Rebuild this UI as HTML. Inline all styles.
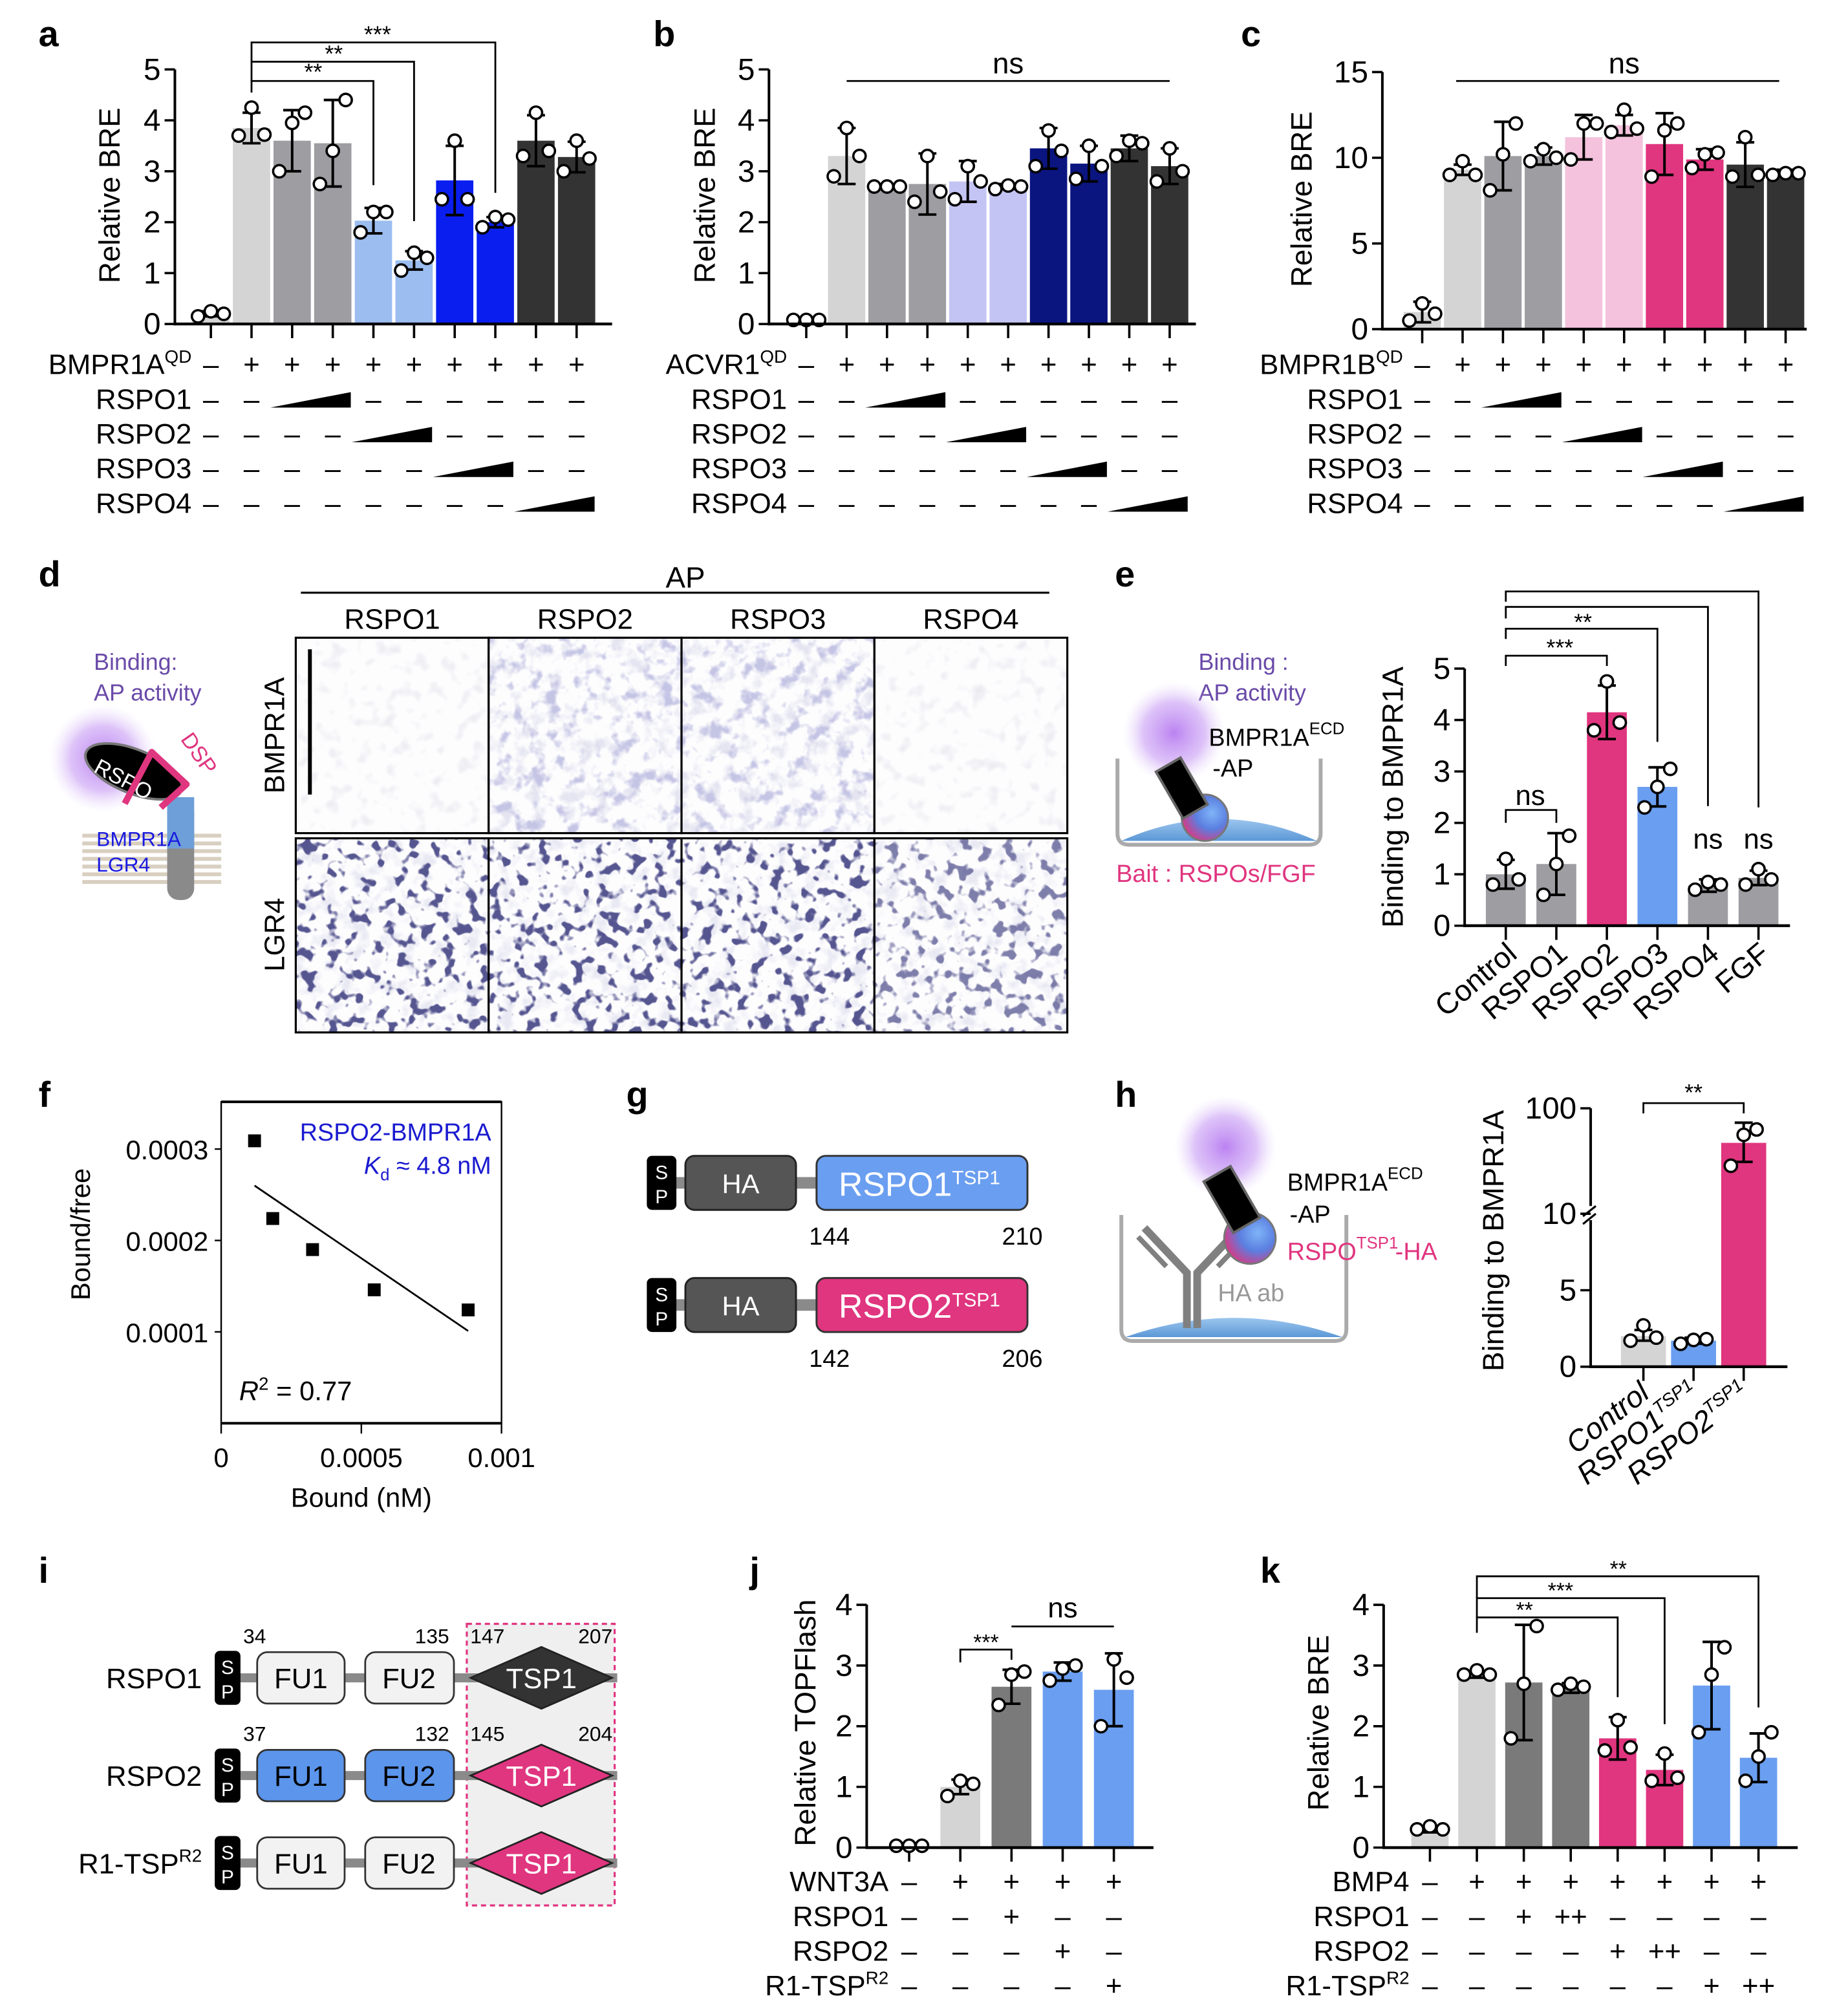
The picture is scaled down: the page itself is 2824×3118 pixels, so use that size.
<!DOCTYPE html>
<html><head><meta charset="utf-8"><title>RSPO-BMPR1A figure</title>
<style>
html,body{margin:0;padding:0;background:#fff;}
svg{display:block;font-family:"Liberation Sans",Arial,sans-serif;}
</style></head>
<body>
<svg id="fig" xmlns="http://www.w3.org/2000/svg" width="2824" height="3118" viewBox="0 0 1420 1568" preserveAspectRatio="none">
<defs>
 <filter id="fLight" x="0" y="0" width="1" height="1"><feTurbulence type="fractalNoise" baseFrequency="0.09" numOctaves="2" seed="2"/><feColorMatrix type="matrix" values="0 0 0 0 0.82 0 0 0 0 0.82 0 0 0 0 0.87 3 0 0 0 -1.6"/></filter>
 <filter id="fLav" x="0" y="0" width="1" height="1"><feTurbulence type="fractalNoise" baseFrequency="0.08" numOctaves="3" seed="5"/><feColorMatrix type="matrix" values="0 0 0 0 0.55 0 0 0 0 0.55 0 0 0 0 0.78 5 0 0 0 -2.7"/></filter>
 <filter id="fLavL" x="0" y="0" width="1" height="1"><feTurbulence type="fractalNoise" baseFrequency="0.08" numOctaves="3" seed="9"/><feColorMatrix type="matrix" values="0 0 0 0 0.78 0 0 0 0 0.78 0 0 0 0 0.88 4 0 0 0 -2.0"/></filter>
 <filter id="fDark" x="0" y="0" width="1" height="1"><feTurbulence type="fractalNoise" baseFrequency="0.11" numOctaves="2" seed="7"/><feColorMatrix type="matrix" values="0 0 0 0 0.09 0 0 0 0 0.09 0 0 0 0 0.28 10 0 0 0 -5.6"/></filter>
 <radialGradient id="glow"><stop offset="0" stop-color="#b77cf0" stop-opacity="0.95"/><stop offset="0.6" stop-color="#c79af4" stop-opacity="0.6"/><stop offset="1" stop-color="#e6d6fb" stop-opacity="0"/></radialGradient>
 <radialGradient id="ball" cx="0.65" cy="0.4" r="0.7"><stop offset="0" stop-color="#7fb4f8"/><stop offset="0.5" stop-color="#5b7fe0"/><stop offset="1" stop-color="#e0357f"/></radialGradient>
 <linearGradient id="dish" x1="0" y1="0" x2="0" y2="1"><stop offset="0" stop-color="#9cc6ef"/><stop offset="1" stop-color="#5c98d6"/></linearGradient>
</defs>
<g id="root"></g>
</svg>
<script>
// ===== DATA =====
// panel a
const aMeans=[0.2,3.85,3.6,3.55,2.03,1.25,2.82,2.0,3.6,3.28];
const aSD=[0.05,0.3,0.6,0.85,0.25,0.18,0.68,0.1,0.5,0.3];
const aPts=[[0.15,0.25,0.2],[3.7,4.25,3.72],[3.0,3.95,4.15],[2.75,3.4,4.4],[1.8,2.2,2.2],[1.05,1.4,1.3],[2.45,3.6,2.45],[1.9,2.1,2.05],[3.3,4.15,3.4],[3.0,3.6,3.25]];
const aColors=['#d4d4d4','#d4d4d4','#9d9da2','#9d9da2','#9bbdf0','#9bbdf0','#0a1ef0','#0a1ef0','#333333','#333333'];
// panel b
const bMeans=[0.08,3.3,2.7,2.75,2.8,2.7,3.45,3.15,3.45,3.1];
const bSD=[0.02,0.55,0.03,0.6,0.4,0.05,0.4,0.35,0.25,0.35];
const bPts=[[0.08,0.08,0.08],[2.9,3.85,3.3],[2.7,2.7,2.7],[2.4,3.3,2.6],[2.45,3.1,2.8],[2.65,2.72,2.7],[3.1,3.8,3.4],[2.85,3.5,3.1],[3.3,3.6,3.55],[2.8,3.45,3.0]];
const bColors=['#d4d4d4','#d4d4d4','#9d9da2','#9d9da2','#c4c4f4','#c4c4f4','#0b1580','#0b1580','#333333','#333333'];
// panel c
const cMeans=[1.0,9.3,10.1,10.1,11.2,11.9,10.8,9.9,9.6,9.2];
const cSD=[0.6,0.3,2.0,0.5,1.3,0.6,1.8,0.6,1.3,0.1];
const cPts=[[0.5,1.5,0.9],[9.0,9.8,9.0],[8.1,10.2,12.0],[9.8,10.5,10.0],[9.9,12.0,12.0],[11.5,12.8,11.7],[8.9,11.6,12.0],[9.4,10.2,10.3],[8.9,11.2,9.0],[9.0,9.1,9.1]];
const cColors=['#d4d4d4','#d4d4d4','#9d9da2','#9d9da2','#f4c2dc','#f4c2dc','#e0357f','#e0357f','#333333','#333333'];
const yTicks5=[0,1,2,3,4,5];
const yTicks15=[0,5,10,15];
// panel e
const eCats=['Control','RSPO1','RSPO2','RSPO3','RSPO4','FGF'];
const eMeans=[1.0,1.2,4.15,2.7,0.78,0.93];
const eSD=[0.28,0.6,0.52,0.38,0.12,0.14];
const ePts=[[0.8,1.3,0.9],[0.6,1.2,1.75],[3.8,4.75,3.95],[2.3,2.7,3.05],[0.7,0.85,0.8],[0.8,1.1,0.9]];
const eColors=['#9d9da2','#9d9da2','#e0357f','#6a9ef0','#9d9da2','#9d9da2'];
// panel f
const fBound=[0.000119,0.000184,0.000326,0.000546,0.000881];
const fRatio=[0.000309,0.000224,0.000190,0.000146,0.000124];
const fFitX=[0.000119,0.000881];
const fFitY=[0.000260,0.000101];
const fXTicks=[0,0.0005,0.001];
const fXTickLabels=['0','0.0005','0.001'];
const fYTicks=[0.0001,0.0002,0.0003];
const fYTickLabels=['0.0001','0.0002','0.0003'];
// panel h
const hCats=['Control','RSPO1','RSPO2'];
const hMeans=[2.0,1.7,47];
const hLo=[1.7,1.5,31];
const hHi=[2.4,1.9,73];
const hPts=[[1.7,2.7,1.9],[1.5,1.75,1.8],[28.5,56,63]];
const hColors=['#d4d4d4','#6a9ef0','#e0357f'];
const hTicks=[0,5,10,100];
// panel j
const jMeans=[0.03,1.0,2.65,2.9,2.6];
const jSD=[0.02,0.12,0.28,0.15,0.6];
const jPts=[[0.03,0.03,0.03],[0.85,1.1,1.05],[2.35,2.85,2.9],[2.75,2.95,3.0],[2.0,3.1,2.8]];
const jColors=['#d4d4d4','#d4d4d4','#7a7a7a','#6a9ef0','#6a9ef0'];
// panel k
const kMeans=[0.3,2.85,2.72,2.63,1.8,1.28,2.67,1.48];
const kSD=[0.05,0.05,0.95,0.08,0.35,0.25,0.72,0.4];
const kPts=[[0.3,0.35,0.3],[2.85,2.92,2.85],[1.8,2.7,3.65],[2.6,2.7,2.65],[1.6,2.1,1.65],[1.1,1.55,1.15],[1.9,2.85,3.3],[1.1,1.5,1.9]];
const kColors=['#d4d4d4','#d4d4d4','#7a7a7a','#7a7a7a','#e0357f','#e0357f','#6a9ef0','#6a9ef0'];
const yTicks4=[0,1,2,3,4];
// treatment tables
const aRows=[['–','+','+','+','+','+','+','+','+','+'],['–','–','/','/','–','–','–','–','–','–'],['–','–','–','–','/','/','–','–','–','–'],['–','–','–','–','–','–','/','/','–','–'],['–','–','–','–','–','–','–','–','/','/']];
const jRows=[['–','+','+','+','+'],['–','–','+','–','–'],['–','–','–','+','–'],['–','–','–','–','+']];
const kRows=[['–','+','+','+','+','+','+','+'],['–','–','+','++','–','–','–','–'],['–','–','–','–','+','++','–','–'],['–','–','–','–','–','–','+','++']];

// ===== HELPERS =====
const NS='http://www.w3.org/2000/svg';
const root=document.getElementById('root');
function mk(tag,attrs,parent){const e=document.createElementNS(NS,tag);for(const k in attrs)e.setAttribute(k,attrs[k]);(parent||root).appendChild(e);return e;}
function txt(s,attrs,parent){const e=mk('text',attrs,parent);e.textContent=s;return e;}
function supText(base,sup,attrs,parent,supSize){
  const e=mk('text',attrs,parent);
  const t1=mk('tspan',{},e);t1.textContent=base;
  const t2=mk('tspan',{dy:-9,'font-size':supSize||15},e);t2.textContent=sup;
  return e;
}
function group(name){const g=mk('g',{});return g;}

function barChart(g,L,means,lo,hi,pts,colors,yf){
  const y=yf||(v=>L.y0-v*L.k);
  const ax=mk('line',{x1:L.axisX,y1:L.y0+1,x2:L.axisX,y2:L.yTop,stroke:'#000','stroke-width':2},g);
  
  
  means.forEach((m,i)=>{
    const cx=L.x0+i*L.step;
    const r=mk('rect',{x:cx-L.bw/2,y:y(m),width:L.bw,height:Math.max(0,L.y0-y(m)),fill:colors[i]},g);
    
    
    const t=mk('line',{x1:cx,y1:L.y0,x2:cx,y2:L.y0+11,stroke:'#000','stroke-width':1.8},g);
    
    
    const yl=y(lo[i]),yh=y(hi[i]);
    const eb=mk('path',{d:`M${cx},${yl}V${yh}M${cx-7},${yl}h14M${cx-7},${yh}h14`,stroke:'#000','stroke-width':2,fill:'none'},g);
    
    
    const offs=[-10,0,10];
    pts[i].forEach((p,j)=>{
      const c=mk('circle',{cx:cx+offs[j],cy:y(p),r:4.8,fill:'#fff',stroke:'#000','stroke-width':1.8},g);
      
      
    });
  });
  const xa=mk('line',{x1:L.axisX-1,y1:L.y0,x2:L.axisEnd,y2:L.y0,stroke:'#000','stroke-width':2.2},g);
  
  
  L.ticks.forEach(v=>{
    mk('line',{x1:L.axisX-8,y1:y(v),x2:L.axisX,y2:y(v),stroke:'#000','stroke-width':1.8},g);
    const tl=txt(String(v),{x:L.axisX-11,y:y(v)+8,'text-anchor':'end','font-size':24},g);
    
    
  });
  const tt=txt(L.title,{x:0,y:0,'text-anchor':'middle','font-size':23,transform:`translate(${L.titleX},${L.titleY}) rotate(-90)`},g);
  
  
}
function sdLo(m,s){return m.map((v,i)=>v-s[i]);}
function sdHi(m,s){return m.map((v,i)=>v+s[i]);}

function table(g,x0,step,rowY,labels,rows,labelOffset){
  rows.forEach((row,r)=>{
    const yy=rowY[r];
    const lab=labels[r];
    let t;
    if(lab[1]) t=supText(lab[0],lab[1],{x:x0-labelOffset,y:yy+8,'text-anchor':'end','font-size':22},g,14);
    else t=txt(lab[0],{x:x0-labelOffset,y:yy+8,'text-anchor':'end','font-size':22},g);
    
    
    let i=0;
    while(i<row.length){
      if(row[i]==='/'){
        let j=i;while(j+1<row.length&&row[j+1]==='/')j++;
        const xa=x0+i*step-17,xb=x0+j*step+14,yb=yy+7;
        const w=mk('polygon',{points:`${xa},${yb} ${xb},${yb} ${xb},${yb-12}`,fill:'#000'},g);
        
        
        i=j+1;
      } else {
        const s=txt(row[i],{x:x0+i*step,y:yy+8,'text-anchor':'middle','font-size':22},g);
        
        
        i++;
      }
    }
  });
}
function bracket(g,x1,x2,ytop,yl,yr,label,lx,ly,fs){
  const p=mk('path',{d:`M${x1},${yl}V${ytop}H${x2}V${yr}`,stroke:'#000','stroke-width':1.4,fill:'none'},g);
  
  
  if(label){const t=txt(label,{x:lx,y:ly,'text-anchor':'middle','font-size':fs||18},g);
    
    }
}
function panelLetter(l,x,y){const t=txt(l,{x:x,y:y,'font-size':28,'font-weight':'bold'});
  
  }

// ===== PANEL LETTERS =====
[['a',30,36],['b',508,36],['c',965,36],['d',30,456],['e',867,456],['f',30,861],['g',487,861],['h',867,861],['i',30,1231],['j',583,1231],['k',980,1231]].forEach(p=>panelLetter(...p));

// ===== PANEL A =====
const LA={axisX:136,axisEnd:476,y0:252,k:39.6,yTop:54,x0:164,step:31.6,bw:29,ticks:yTicks5,title:'Relative BRE',titleX:93,titleY:152};
const gA=group('panel-a-chart');
barChart(gA,LA,aMeans,sdLo(aMeans,aSD),sdHi(aMeans,aSD),aPts,aColors);
const bx=i=>LA.x0+i*LA.step;
bracket(gA,bx(1),bx(4),63,72,144,'**',bx(1)+48,62,18);
bracket(gA,bx(1),bx(5),48,63,172,'**',bx(1)+64,48,18);
bracket(gA,bx(1),bx(7),33,48,150,'***',bx(1)+98,33,18);
table(group('panel-a-table'),LA.x0,LA.step,[283,310,337,364,391],[['BMPR1A','QD'],['RSPO1'],['RSPO2'],['RSPO3'],['RSPO4']],aRows,15);

// ===== PANEL B =====
const LB={axisX:598,axisEnd:930,y0:252,k:39.6,yTop:54,x0:627,step:31.4,bw:29,ticks:yTicks5,title:'Relative BRE',titleX:556,titleY:152};
const gB=group('panel-b-chart');
barChart(gB,LB,bMeans,sdLo(bMeans,bSD),sdHi(bMeans,bSD),bPts,bColors);
bracket(gB,LB.x0+LB.step,LB.x0+9*LB.step,63,63,63,'ns',(LB.x0+5*LB.step),57,23);
table(group('panel-b-table'),LB.x0,LB.step,[283,310,337,364,391],[['ACVR1','QD'],['RSPO1'],['RSPO2'],['RSPO3'],['RSPO4']],aRows,15);

// ===== PANEL C =====
const LC={axisX:1075,axisEnd:1405,y0:256,k:13.33,yTop:56,x0:1106,step:31.4,bw:29,ticks:yTicks15,title:'Relative BRE',titleX:1020,titleY:155};
const gC=group('panel-c-chart');
barChart(gC,LC,cMeans,sdLo(cMeans,cSD),sdHi(cMeans,cSD),cPts,cColors);
bracket(gC,LC.x0+LC.step-5,LC.x0+9*LC.step-5,63,63,63,'ns',(LC.x0+5*LC.step),57,23);
table(group('panel-c-table'),LC.x0,LC.step,[283,310,337,364,391],[['BMPR1B','QD'],['RSPO1'],['RSPO2'],['RSPO3'],['RSPO4']],aRows,15);

// ===== PANEL D =====
const gD=group('panel-d');
txt('AP',{x:533,y:457,'text-anchor':'middle','font-size':23},gD);
mk('line',{x1:234,y1:461,x2:816,y2:461,stroke:'#000','stroke-width':1.6},gD);
const dCols=['RSPO1','RSPO2','RSPO3','RSPO4'];
const cellX=[230,380,530,680];
dCols.forEach((c,i)=>{const t=txt(c,{x:cellX[i]+75,y:489,'text-anchor':'middle','font-size':22},gD);
  
  });
const topF=[['fLight'],['fLavL','fLav'],['fLavL','fLav'],['fLight']];
cellX.forEach((x,i)=>{
  mk('rect',{x:x,y:496,width:150,height:152,fill:'#fdfdfe'},gD);
  topF[i].forEach(f=>mk('rect',{x:x,y:496,width:150,height:152,fill:'#fff',filter:`url(#${f})`},gD));
  mk('rect',{x:x,y:652,width:150,height:151,fill:'#fdfdfe'},gD);
  mk('rect',{x:x,y:652,width:150,height:151,fill:'#fff',filter:'url(#fLavL)',opacity:0.8},gD);
  mk('rect',{x:x,y:652,width:150,height:151,fill:'#fff',filter:'url(#fDark)',opacity:i===3?0.75:1},gD);
  const cb=mk('rect',{x:x,y:496,width:150,height:152,fill:'none',stroke:'#000','stroke-width':1.6},gD);
  
  
  const cb2=mk('rect',{x:x,y:652,width:150,height:151,fill:'none',stroke:'#000','stroke-width':1.6},gD);
  
  
});
mk('line',{x1:241,y1:505,x2:241,y2:618,stroke:'#000','stroke-width':3},gD);
txt('BMPR1A',{x:0,y:0,'text-anchor':'middle','font-size':22,transform:'translate(221,572) rotate(-90)'},gD);
txt('LGR4',{x:0,y:0,'text-anchor':'middle','font-size':22,transform:'translate(221,727) rotate(-90)'},gD);
// schematic
txt('Binding:',{x:73,y:521,'font-size':18,fill:'#6a4aa8'},gD);
txt('AP activity',{x:73,y:545,'font-size':18,fill:'#6a4aa8'},gD);
for(let k=0;k<7;k++) mk('line',{x1:64,y1:650+k*6,x2:172,y2:650+k*6,stroke:'#d8cfc0','stroke-width':3},gD);
mk('rect',{x:130,y:622,width:21,height:78,rx:9,fill:'#8a8a8a'},gD);
mk('rect',{x:130,y:620,width:21,height:40,fill:'#6e9fd8'},gD);
mk('circle',{cx:80,cy:590,r:42,fill:'url(#glow)'},gD);
mk('ellipse',{cx:104,cy:600,rx:40,ry:17,fill:'#000',stroke:'#777','stroke-width':2,transform:'rotate(22 104 600)'},gD);
txt('RSPO',{x:0,y:0,'font-size':17,fill:'#fff',transform:'translate(72,600) rotate(28)'},gD);
mk('path',{d:'M97,625 L118,585 L145,610 L125,628',stroke:'#e0357f','stroke-width':5,fill:'none','stroke-linejoin':'round'},gD);
txt('DSP',{x:0,y:0,'font-size':17,fill:'#e0357f',transform:'translate(140,575) rotate(55)'},gD);
txt('BMPR1A',{x:75,y:658,'font-size':16,fill:'#1a1ae0'},gD);
txt('LGR4',{x:75,y:678,'font-size':16,fill:'#1a1ae0'},gD);

// ===== PANEL E =====
const gEs=group('panel-e-schematic');
txt('Binding :',{x:932,y:521,'font-size':18,fill:'#6a4aa8'},gEs);
txt('AP activity',{x:932,y:545,'font-size':18,fill:'#6a4aa8'},gEs);
mk('path',{d:'M869,590 V648 Q869,657 878,657 H1018 Q1027,657 1027,648 V590',stroke:'#aaa','stroke-width':3,fill:'none'},gEs);
mk('path',{d:'M872,654 Q948,620 1024,654 Z',fill:'url(#dish)'},gEs);
mk('circle',{cx:913,cy:570,r:40,fill:'url(#glow)'},gEs);
mk('circle',{cx:937,cy:636,r:18,fill:'url(#ball)',stroke:'#777','stroke-width':1.5},gEs);
mk('rect',{x:908,y:592,width:22,height:42,fill:'#000',stroke:'#666','stroke-width':2,transform:'rotate(-30 919 613)'},gEs);
supText('BMPR1A','ECD',{x:940,y:580,'font-size':19},gEs,13);
txt('-AP',{x:943,y:604,'font-size':19},gEs);
txt('Bait : RSPOs/FGF',{x:868,y:686,'font-size':19,fill:'#e0357f'},gEs);

const LE={axisX:1139,axisEnd:1392,y0:720,k:40,yTop:520,x0:1171,step:39.3,bw:31,ticks:yTicks5,title:'Binding to BMPR1A',titleX:1091,titleY:620};
const gE=group('panel-e-chart');
barChart(gE,LE,eMeans,sdLo(eMeans,eSD),sdHi(eMeans,eSD),ePts,eColors);
const ex=i=>LE.x0+i*LE.step;
bracket(gE,ex(0),ex(1),630,640,640,'ns',ex(0)+19,626,22);
bracket(gE,ex(0),ex(2),510,518,518,'***',ex(0)+42,510,18);
bracket(gE,ex(0),ex(3),489,497,577,'**',ex(0)+60,490,18);
bracket(gE,ex(0),ex(4),472,481,627,null);
bracket(gE,ex(0),ex(5),460,468,628,null);
txt('ns',{x:ex(4),y:660,'text-anchor':'middle','font-size':22},gE);
txt('ns',{x:ex(5),y:660,'text-anchor':'middle','font-size':22},gE);
eCats.forEach((c,i)=>{const t=txt(c,{x:0,y:0,'text-anchor':'end','font-size':23,transform:`translate(${ex(i)+10},${744}) rotate(-40)`},gE);
  
  });

// ===== PANEL F =====
const gF=group('panel-f-chart');
const FX0=172,FX1=390,FY0=1107,FYT=857;
const fx=v=>FX0+v*218000, fy=v=>FY0-v*711000;
mk('rect',{x:FX0,y:FYT,width:FX1-FX0,height:FY0-FYT,fill:'none',stroke:'#000','stroke-width':1.2},gF);
mk('line',{x1:FX0,y1:FYT,x2:FX1,y2:FYT,stroke:'#000','stroke-width':2},gF);
mk('line',{x1:FX0,y1:FY0,x2:FX1,y2:FY0,stroke:'#000','stroke-width':2},gF);
fXTicks.forEach((v,i)=>{mk('line',{x1:fx(v),y1:FY0,x2:fx(v),y2:FY0+8,stroke:'#000','stroke-width':1.2},gF);
  const t=txt(fXTickLabels[i],{x:fx(v),y:FY0+34,'text-anchor':'middle','font-size':21},gF);
  
  });
fYTicks.forEach((v,i)=>{mk('line',{x1:FX0-5,y1:fy(v),x2:FX0,y2:fy(v),stroke:'#000','stroke-width':1.2},gF);
  const t=txt(fYTickLabels[i],{x:FX0-10,y:fy(v)+8,'text-anchor':'end','font-size':21},gF);
  
  });
txt('Bound (nM)',{x:281,y:1172,'text-anchor':'middle','font-size':21},gF);
txt('Bound/free',{x:0,y:0,'text-anchor':'middle','font-size':21,transform:'translate(70,960) rotate(-90)'},gF);
const fl=mk('line',{x1:fx(fFitX[0]),y1:fy(fFitY[0]),x2:fx(fFitX[1]),y2:fy(fFitY[1]),stroke:'#000','stroke-width':1.4},gF);


fBound.forEach((b,i)=>{const r=mk('rect',{x:fx(b)-5,y:fy(fRatio[i])-5,width:10,height:10,fill:'#000'},gF);
  
  });
txt('RSPO2-BMPR1A',{x:382,y:887,'text-anchor':'end','font-size':19,fill:'#1a1ad0'},gF);
const kd=mk('text',{x:382,y:913,'text-anchor':'end','font-size':19,fill:'#1a1ad0'},gF);
const kd1=mk('tspan',{'font-style':'italic'},kd);kd1.textContent='K';
const kd2=mk('tspan',{dy:5,'font-size':13},kd);kd2.textContent='d';
const kd3=mk('tspan',{dy:-5},kd);kd3.textContent=' ≈ 4.8 nM';
const r2=mk('text',{x:186,y:1089,'font-size':21},gF);
const r2a=mk('tspan',{'font-style':'italic'},r2);r2a.textContent='R';
const r2b=mk('tspan',{dy:-8,'font-size':14},r2);r2b.textContent='2';
const r2c=mk('tspan',{dy:8},r2);r2c.textContent=' = 0.77';

// ===== PANEL G =====
const gG=group('panel-g-constructs');
function spBox(g,x,yc,w,h){mk('rect',{x:x,y:yc-h/2,width:w,height:h,rx:4,fill:'#000'},g);
  txt('S',{x:x+w/2,y:yc-3,'text-anchor':'middle','font-size':15,fill:'#fff'},g);
  txt('P',{x:x+w/2,y:yc+16,'text-anchor':'middle','font-size':15,fill:'#fff'},g);}
[[920,'RSPO1','#6a9ef0','144','210'],[1015,'RSPO2','#e0357f','142','206']].forEach(r=>{
  const yc=r[0];
  mk('line',{x1:520,y1:yc,x2:640,y2:yc,stroke:'#8a8a8a','stroke-width':9},gG);
  spBox(gG,503,yc,23,42);
  mk('rect',{x:533,y:yc-21,width:86,height:42,rx:7,fill:'#555',stroke:'#222','stroke-width':1.5},gG);
  txt('HA',{x:576,y:yc+8,'text-anchor':'middle','font-size':21,fill:'#fff'},gG);
  const b=mk('rect',{x:635,y:yc-21,width:164,height:42,rx:7,fill:r[2],stroke:'#333','stroke-width':1.5},gG);
  
  
  supText(r[1],'TSP1',{x:715,y:yc+10,'text-anchor':'middle','font-size':26,fill:'#fff'},gG,15);
  txt(r[3],{x:645,y:yc+48,'text-anchor':'middle','font-size':19},gG);
  txt(r[4],{x:795,y:yc+48,'text-anchor':'middle','font-size':19},gG);
});

// ===== PANEL H =====
const gHs=group('panel-h-schematic');
mk('path',{d:'M872,945 V1034 Q872,1043 881,1043 H1038 Q1047,1043 1047,1034 V945',stroke:'#aaa','stroke-width':3,fill:'none'},gHs);
mk('path',{d:'M875,1040 Q960,1010 1044,1040 Z',fill:'url(#dish)'},gHs);
mk('circle',{cx:953,cy:892,r:40,fill:'url(#glow)'},gHs);
mk('path',{d:'M923,1033 V990 L890,955 M931,1033 V990 L964,955',stroke:'#808080','stroke-width':6,fill:'none'},gHs);
mk('path',{d:'M885,962 L907,985 M969,962 L947,985',stroke:'#808080','stroke-width':4,fill:'none'},gHs);
mk('circle',{cx:972,cy:963,r:20,fill:'url(#ball)',stroke:'#777','stroke-width':1.5},gHs);
mk('rect',{x:946,y:910,width:24,height:46,fill:'#000',stroke:'#666','stroke-width':2,transform:'rotate(-30 958 933)'},gHs);
supText('BMPR1A','ECD',{x:1001,y:926,'font-size':19},gHs,13);
txt('-AP',{x:1003,y:951,'font-size':19},gHs);
supText('RSPO','TSP1',{x:1001,y:980,'font-size':19,fill:'#e0357f'},gHs,13);
txt('-HA',{x:1085,y:980,'font-size':19,fill:'#e0357f'},gHs);
txt('HA ab',{x:947,y:1012,'font-size':19,fill:'#999'},gHs);

const LH={axisX:1237,axisEnd:1390,y0:1063,yTop:862,x0:1278,step:39,bw:35,ticks:[],title:'Binding to BMPR1A',titleX:1169,titleY:965};
const hy=v=>v<=10?LH.y0-v*11.9:944-82*Math.log10(v/10);
const gH=group('panel-h-chart');
barChart(gH,LH,hMeans,hLo,hHi,hPts,hColors,hy);
mk('rect',{x:LH.axisX-6,y:938,width:12,height:11,fill:'#fff'},gH);
mk('path',{d:`M${LH.axisX-6},${946} l10,-8 M${LH.axisX-6},${952} l10,-8`,stroke:'#000','stroke-width':1.6},gH);
hTicks.forEach(v=>{mk('line',{x1:LH.axisX-8,y1:hy(v),x2:LH.axisX,y2:hy(v),stroke:'#000','stroke-width':1.8},gH);
  const t=txt(String(v),{x:LH.axisX-11,y:hy(v)+8,'text-anchor':'end','font-size':24},gH);
  
  });
bracket(gH,LH.x0,LH.x0+2*LH.step,858,866,866,'**',LH.x0+39,856,18);
hCats.forEach((c,i)=>{const x=LH.x0+i*LH.step+6;
  const t=mk('text',{x:0,y:0,'text-anchor':'end','font-size':23,'font-style':'italic',transform:`translate(${x},1086) rotate(-38)`},gH);
  if(i===0){t.textContent=c;}
  else{const a=mk('tspan',{},t);a.textContent=c;const b=mk('tspan',{dy:-9,'font-size':14},t);b.textContent='TSP1';}
  
  });

// ===== PANEL I =====
const gI=group('panel-i-constructs');
const dr=mk('rect',{x:363,y:1263,width:115,height:219,fill:'#efefef',stroke:'#e0357f','stroke-width':1.6,'stroke-dasharray':'4,3'},gI);


const iRowsDef=[[1305,'RSPO1',null,'#f2f2f2','#333',['34','135','147','207']],[1381,'RSPO2',null,'#5b95ec','#e0357f',['37','132','145','204']],[1449,'R1-TSP','R2','#f2f2f2','#e0357f',null]];
iRowsDef.forEach(r=>{
  const yc=r[0];
  mk('line',{x1:185,y1:yc,x2:480,y2:yc,stroke:'#8a8a8a','stroke-width':7},gI);
  spBox(gI,167,yc,20,42);
  mk('rect',{x:200,y:yc-20,width:68,height:40,rx:8,fill:r[3],stroke:'#333','stroke-width':1.4},gI);
  mk('rect',{x:284,y:yc-20,width:69,height:40,rx:8,fill:r[3],stroke:'#333','stroke-width':1.4},gI);
  txt('FU1',{x:234,y:yc+8,'text-anchor':'middle','font-size':22},gI);
  txt('FU2',{x:318,y:yc+8,'text-anchor':'middle','font-size':22},gI);
  const d=mk('polygon',{points:`366,${yc} 421,${yc-24} 476,${yc} 421,${yc+24}`,fill:r[4],stroke:'#222','stroke-width':1.4},gI);
  
  
  txt('TSP1',{x:421,y:yc+8,'text-anchor':'middle','font-size':22,fill:'#fff'},gI);
  if(r[2]) supText(r[1],r[2],{x:157,y:yc+8,'text-anchor':'end','font-size':22},gI,14);
  else txt(r[1],{x:157,y:yc+8,'text-anchor':'end','font-size':22},gI);
  if(r[5]){[198,336,379,463].forEach((x,k)=>txt(r[5][k],{x:x,y:yc-27,'text-anchor':'middle','font-size':16},gI));}
});

// ===== PANEL J =====
const LJ={axisX:674,axisEnd:897,y0:1437,k:47.2,yTop:1248,x0:707,step:39.8,bw:31,ticks:yTicks4,title:'Relative TOPFlash',titleX:634,titleY:1340};
const gJ=group('panel-j-chart');
barChart(gJ,LJ,jMeans,sdLo(jMeans,jSD),sdHi(jMeans,jSD),jPts,jColors);
const jx=i=>LJ.x0+i*LJ.step;
bracket(gJ,jx(1),jx(2),1283,1293,1291,'***',jx(1)+20,1283,17);
bracket(gJ,jx(2),jx(4),1265,1265,1265,'ns',jx(3),1258,22);
table(group('panel-j-table'),LJ.x0,LJ.step,[1463,1490,1517,1544],[['WNT3A'],['RSPO1'],['RSPO2'],['R1-TSP','R2']],jRows,16);

// ===== PANEL K =====
const LK={axisX:1076,axisEnd:1398,y0:1437,k:47.2,yTop:1248,x0:1112,step:36.5,bw:29,ticks:yTicks4,title:'Relative BRE',titleX:1033,titleY:1340};
const gK=group('panel-k-chart');
barChart(gK,LK,kMeans,sdLo(kMeans,kSD),sdHi(kMeans,kSD),kPts,kColors);
const kx=i=>LK.x0+i*LK.step;
bracket(gK,kx(1),kx(4),1258,1270,1320,'**',kx(1)+37,1258,17);
bracket(gK,kx(1),kx(5),1243,1258,1341,'***',kx(1)+65,1243,17);
bracket(gK,kx(1),kx(7),1226,1243,1328,'**',kx(1)+110,1226,17);
table(group('panel-k-table'),LK.x0,LK.step,[1463,1490,1517,1544],[['BMP4'],['RSPO1'],['RSPO2'],['R1-TSP','R2']],kRows,16);
</script>
</body></html>
